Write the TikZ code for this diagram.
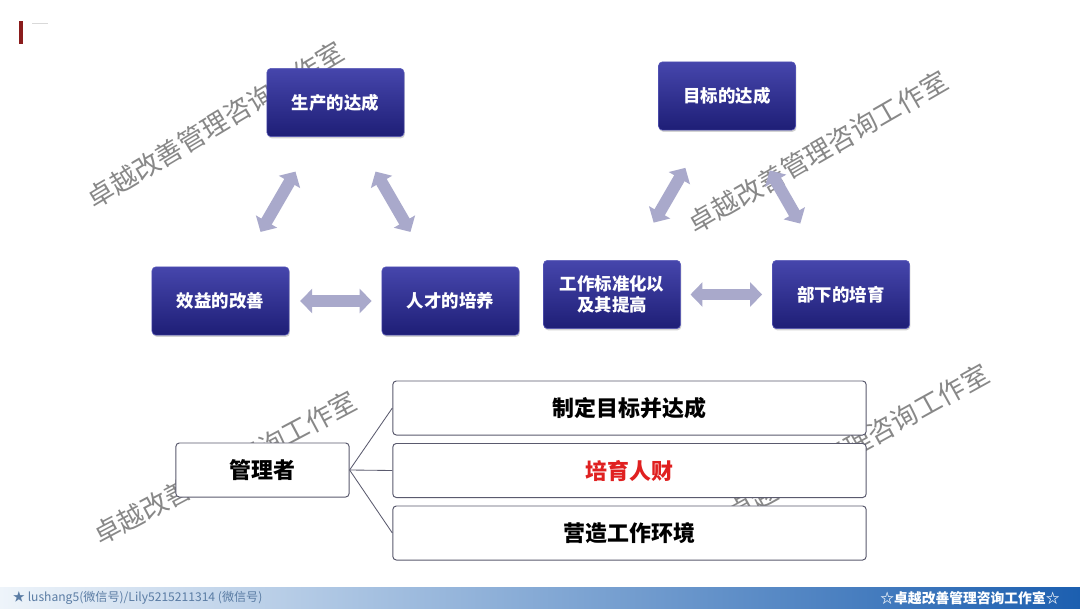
\documentclass[tikz,border=0pt]{standalone}
\usepackage{fontspec}
\setmainfont{Noto Sans CJK SC}
\usepackage{tikz}
\usetikzlibrary{arrows.meta,shadows}
\definecolor{navytop}{HTML}{4646AC}
\definecolor{navybot}{HTML}{1E1E76}
\definecolor{navyrim}{HTML}{5A5ABA}
\definecolor{lilac}{HTML}{A9A9CB}
\definecolor{wmgray}{HTML}{888888}
\definecolor{edge}{HTML}{5A5A6E}
\definecolor{hot}{HTML}{E02020}
\definecolor{barlight}{HTML}{EEF4FA}
\definecolor{barmid}{HTML}{A9CBEA}
\definecolor{bardark}{HTML}{1C5FB0}
\definecolor{foot}{HTML}{5A7CA4}
\definecolor{maroon}{HTML}{8A1C1C}
\tikzset{navybox/.style={draw=navyrim,line width=.4pt,rounded corners=3pt,top color=navytop,bottom color=navybot,text=white,font=\bfseries\fontsize{12.4}{15}\selectfont,align=center,minimum width=3.43cm,minimum height=1.71cm,drop shadow={opacity=.35,shadow xshift=.6pt,shadow yshift=-1.2pt}},whitebox/.style={draw=edge,line width=.7pt,fill=white,rounded corners=2.5pt,font=\bfseries\fontsize{15.6}{18}\selectfont,minimum height=1.35cm},fat/.style={{Triangle[width=17pt,length=8.5pt]}-{Triangle[width=17pt,length=8.5pt]},draw=lilac,line width=8.5pt},wmark/.style={text=wmgray,font=\fontsize{19}{19}\selectfont,inner sep=0pt},twig/.style={draw=edge,line width=.6pt}}

\begin{document}
\begin{tikzpicture}[x=.025cm,y=.025cm]
\useasboundingbox (0,0) rectangle (1080,608);
\fill[white] (0,0) rectangle (1080,608);
% header mark
\fill[maroon] (19,564) rectangle (23,587); \draw[gray!30,line width=.6pt] (32,585)--(48,585);
% watermarks behind everything
\node[wmark,rotate=31] (wm1) at (215,483) {卓越改善管理咨询工作室};
\node[wmark,rotate=30] (wm2) at (818,456) {卓越改善管理咨询工作室};
\node[wmark,rotate=28] (wm3) at (225,140) {卓越改善管理咨询工作室};
\node[wmark,rotate=29] (wm4) at (858,165) {卓越改善管理咨询工作室};
% left triangle
\node[navybox] (prod) at (335.5,505.5) {生产的达成};
\node[navybox] (gain) at (220.5,307) {效益的改善};
\node[navybox] (talent) at (450.5,307) {人才的培养};
\draw[fat,shorten <=1cm,shorten >=1cm] (prod)--(gain); \draw[fat,shorten <=1cm,shorten >=1cm] (prod)--(talent);
\draw[fat,shorten <=.27cm,shorten >=.25cm] (gain)--(talent);
% right triangle
\node[navybox] (goal) at (727,512) {目标的达成};
\node[navybox] (std) at (612,313.5) {工作标准化以\\及其提高};
\node[navybox] (sub) at (841,313.5) {部下的培育};
\draw[fat,shorten <=1.08cm,shorten >=1.08cm] (goal)--(std); \draw[fat,shorten <=1.15cm,shorten >=1.05cm] (goal)--(sub);
\draw[fat,shorten <=.24cm,shorten >=.25cm] (std)--(sub);
% manager tree
\node[whitebox,minimum width=4.33cm] (mgr) at (262.5,138) {管理者};
\node[whitebox,minimum width=11.83cm] (t1) at (629.5,200) {制定目标并达成};
\node[whitebox,minimum width=11.83cm,text=hot] (t2) at (629.5,137.5) {培育人财};
\node[whitebox,minimum width=11.83cm] (t3) at (629.5,75) {营造工作环境};
\foreach \t in {t1,t2,t3} \draw[twig] (mgr.east)--(\t.west);
% footer bar
\shade[left color=barlight,middle color=barmid,right color=bardark] (0,0) rectangle (1080,21);
\node[anchor=west,text=foot,font=\fontsize{8.6}{10}\selectfont] (wx) at (8,10) {★ lushang5(微信号)/Lily5215211314 (微信号)};
\node[text=white,font=\bfseries\fontsize{9.8}{11}\selectfont] (brand) at (970,10) {☆卓越改善管理咨询工作室☆};
\end{tikzpicture}
\end{document}
